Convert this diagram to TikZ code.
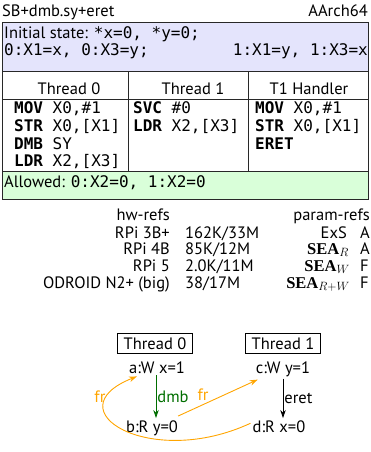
\documentclass[tikz,border=0pt]{standalone}
\usepackage{fontspec}
\setmainfont{PT Sans}
\newfontfamily\cf{DejaVu Sans Mono}
\newfontfamily\serifb{Liberation Serif}
\usetikzlibrary{arrows.meta}
\definecolor{initblue}{RGB}{228,228,252}
\definecolor{allowgreen}{RGB}{217,255,217}
\definecolor{frorange}{RGB}{255,165,0}
\definecolor{dmbgreen}{RGB}{0,110,0}
\definecolor{framegray}{RGB}{40,40,40}
\newcommand{\sz}{\fontsize{16.5}{19}\selectfont}
\newcommand{\cz}{\fontsize{16}{19}\selectfont\cf}
\newcommand{\kw}[1]{\textbf{#1}}
\begin{document}
\begin{tikzpicture}[x=1pt,y=-1pt,
  every node/.style={inner sep=0pt, font=\sz},
  lt/.style={anchor=base west},
  rt/.style={anchor=base east},
  ct/.style={anchor=base},
  frame/.style={draw=framegray, line width=0.9pt},
  ev/.style={anchor=base, inner sep=2pt},
  thr/.style={draw, line width=0.6pt, inner xsep=6pt, inner ysep=4pt, anchor=base},
  po/.style={-{Stealth[length=8pt,width=5.5pt]}, line width=0.8pt},
  fr/.style={-{Stealth[length=8pt,width=5.5pt]}, line width=0.9pt, draw=frorange},
  frl/.style={text=frorange}
]
\useasboundingbox (0,0) rectangle (370,452);
% title
\node[lt] (title) at (2,17) {SB+dmb.sy+eret};
\node[rt] (arch) at (368,17) {AArch64};
% initial state box
\filldraw[frame, fill=initblue] (2,22) rectangle (368,71);
\node[lt] (init1) at (4,38) {Initial state: {\cz *x=0, *y=0;}};
\node[lt] (init2) at (4,56) {\cz 0:X1=x, 0:X3=y;};
\node[rt] (init3) at (368,56) {\cz 1:X1=y, 1:X3=x};
% header and code
\draw[frame] (2,71) -- (2,171);
\draw[frame] (368,71) -- (368,171);
\draw[frame] (2,99) -- (368,99);
\draw[frame] (128,71) -- (128,171);
\draw[frame] (248,71) -- (248,171);
\node[ct] (h0) at (69,94) {Thread 0};
\node[ct] (h1) at (193,94) {Thread 1};
\node[ct] (h2) at (309,94) {T1 Handler};
\node[lt] (p0a) at (14,113) {\cz\kw{MOV} X0,\#1};
\node[lt] (p0b) at (14,131) {\cz\kw{STR} X0,[X1]};
\node[lt] (p0c) at (14,149) {\cz\kw{DMB} SY};
\node[lt] (p0d) at (14,166.5) {\cz\kw{LDR} X2,[X3]};
\node[lt] (p1a) at (133,113) {\cz\kw{SVC} \#0};
\node[lt] (p1b) at (133,131) {\cz\kw{LDR} X2,[X3]};
\node[lt] (p2a) at (255,113) {\cz\kw{MOV} X0,\#1};
\node[lt] (p2b) at (255,131) {\cz\kw{STR} X0,[X1]};
\node[lt] (p2c) at (255,149) {\cz\kw{ERET}};
% allowed box
\filldraw[frame, fill=allowgreen] (2,171) rectangle (368,199);
\node[lt] (allowed) at (4,187) {Allowed: {\cz 0:X2=0, 1:X2=0}};
% results table
\node[rt] (hw) at (170,220) {hw-refs};
\node[rt] (pr) at (370,220) {param-refs};
\node[rt] (r1a) at (170,238) {RPi 3B+};
\node[rt] (r2a) at (170,254) {RPi 4B};
\node[rt] (r3a) at (170,271) {RPi 5};
\node[rt] (r4a) at (170,288) {ODROID N2+ (big)};
\node[lt] (r1b) at (185,238) {162K/33M};
\node[lt] (r2b) at (185,254) {85K/12M};
\node[lt] (r3b) at (185,271) {2.0K/11M};
\node[lt] (r4b) at (185,288) {38/17M};
\node[rt] (r1c) at (347,238) {ExS};
\node[rt] (r2c) at (349,254) {\serifb\textbf{SEA}$_{R}$};
\node[rt] (r3c) at (350,271) {\serifb\textbf{SEA}$_{W}$};
\node[rt] (r4c) at (350,288) {\serifb\textbf{SEA}$_{R+W}$};
\node[lt] (r1d) at (360,238) {A};
\node[lt] (r2d) at (360,254) {A};
\node[lt] (r3d) at (360,271) {F};
\node[lt] (r4d) at (360,288) {F};
% execution graph
\node[thr] (t0) at (155,349) {Thread 0};
\node[thr] (t1) at (283,349) {Thread 1};
\node[ev] (a) at (157,373) {a:W x=1};
\node[ev] (b) at (152,432) {b:R y=0};
\node[ev] (c) at (283,373) {c:W y=1};
\node[ev] (d) at (279,432) {d:R x=0};
\draw[po, dmbgreen] ([xshift=-1pt]a.south) -- ([xshift=-1pt]a.south |- b.north)
  node[midway, right=1pt, text=dmbgreen] (dmbl) {dmb};
\draw[po] (c.south) -- (c.south |- d.north)
  node[midway, right=1pt] (eretl) {eret};
\draw[fr] ([xshift=-2pt,yshift=2pt]b.north east) -- ([xshift=4pt,yshift=-1pt]c.south west)
  node[pos=0.4, above left=1pt, frl] (frl1) {fr};
\draw[fr] ([yshift=3pt]d.west) .. controls (150,470) and (52,410) .. ([xshift=10pt,yshift=-1pt]a.south west)
  node[pos=0.82, left=2pt, frl] (frl2) {fr};
\end{tikzpicture}
\end{document}
